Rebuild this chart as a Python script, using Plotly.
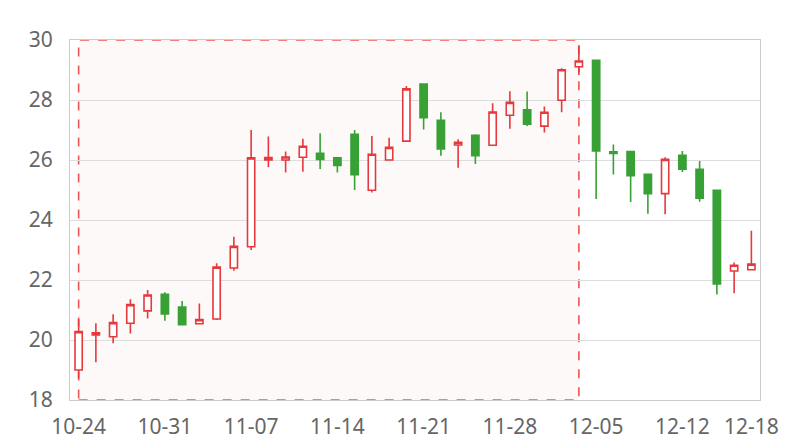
import plotly.graph_objects as go

dates = ["10-24", "10-25", "10-28", "10-29", "10-30", "10-31",
         "11-01", "11-04", "11-05", "11-06", "11-07", "11-08",
         "11-11", "11-12", "11-13", "11-14", "11-15", "11-18",
         "11-19", "11-20", "11-21", "11-22", "11-25", "11-26",
         "11-27", "11-28", "11-29", "12-02", "12-03", "12-04",
         "12-05", "12-06", "12-09", "12-10", "12-11", "12-12",
         "12-13", "12-16", "12-17", "12-18"]
open_ = [19.00, 20.17, 20.11, 20.56, 20.97, 21.52, 21.10, 20.54, 20.70, 22.40,
         23.11, 26.00, 26.00, 26.09, 26.22, 26.07, 26.86, 24.99, 26.00, 26.63,
         28.53, 27.32, 26.50, 26.82, 26.49, 27.49, 27.67, 27.13, 27.99, 29.11,
         29.32, 26.27, 26.28, 25.52, 24.88, 26.16, 25.69, 24.99, 22.30, 22.34]
close = [20.28, 20.24, 20.58, 21.18, 21.50, 20.87, 20.51, 20.68, 22.43, 23.12,
         26.07, 26.08, 26.10, 26.46, 26.02, 25.82, 25.51, 26.19, 26.42, 28.37,
         27.41, 26.37, 26.59, 26.14, 27.60, 27.92, 27.19, 27.59, 29.01, 29.30,
         26.30, 26.22, 25.48, 24.88, 26.02, 25.69, 24.73, 21.87, 22.49, 22.53]
high = [20.69, 20.56, 20.86, 21.36, 21.67, 21.59, 21.30, 21.22, 22.56, 23.44,
        27.00, 26.78, 26.28, 26.71, 26.89, 26.07, 27.00, 26.80, 26.74, 28.47,
        28.53, 27.59, 26.69, 26.86, 27.89, 28.29, 28.28, 27.78, 29.06, 29.81,
        29.32, 26.52, 26.28, 25.52, 26.09, 26.30, 25.97, 24.99, 22.58, 23.64]
low = [18.72, 19.26, 19.89, 20.22, 20.72, 20.64, 20.51, 20.54, 20.67, 22.31,
       23.00, 25.76, 25.58, 25.61, 25.70, 25.58, 25.00, 24.92, 26.00, 26.63,
       27.02, 26.14, 25.74, 25.87, 26.49, 27.04, 27.13, 26.92, 27.59, 28.83,
       24.70, 25.52, 24.60, 24.21, 24.19, 25.60, 24.61, 21.52, 21.56, 22.34]
tick_labels = ["10-24", "10-31", "11-07", "11-14", "11-21", "11-28", "12-05", "12-12", "12-18"]
area_start, area_end = "10-24", "12-04"

RED = "#e5393b"
GREEN = "#38a136"

fig = go.Figure(go.Candlestick(
    x=dates, open=open_, high=high, low=low, close=close,
    increasing=dict(line=dict(color=RED, width=1.6), fillcolor="white"),
    decreasing=dict(line=dict(color=GREEN, width=1.6), fillcolor=GREEN),
    whiskerwidth=0, showlegend=False,
))

fig.add_shape(type="rect", xref="x", yref="y",
              x0=area_start, x1=area_end, y0=18, y1=30,
              fillcolor="rgba(240,80,80,0.035)",
              line=dict(color="#ee5555", width=1.6, dash="dash"),
              layer="below")

fig.update_layout(
    width=792, height=432,
    margin=dict(l=62, r=40, t=32, b=40),
    paper_bgcolor="white", plot_bgcolor="white",
    font=dict(family="Noto Sans, sans-serif", size=21, color="#666666"),
    boxgap=0.4,
    xaxis=dict(type="category", rangeslider=dict(visible=False),
               tickmode="array", tickvals=tick_labels, ticktext=tick_labels,
               showgrid=False, showline=True, linecolor="#cccccc", mirror=True,
               ticks="", ticklabelstandoff=8, automargin=False,
               tickfont=dict(size=21, color="#666666")),
    yaxis=dict(range=[18, 30], dtick=2, showgrid=True, gridcolor="#dddddd",
               showline=True, linecolor="#cccccc", mirror=True, zeroline=False,
               ticks="", ticklabelstandoff=12, automargin=False,
               tickfont=dict(size=21, color="#666666")),
)

fig.write_html("out.html")
